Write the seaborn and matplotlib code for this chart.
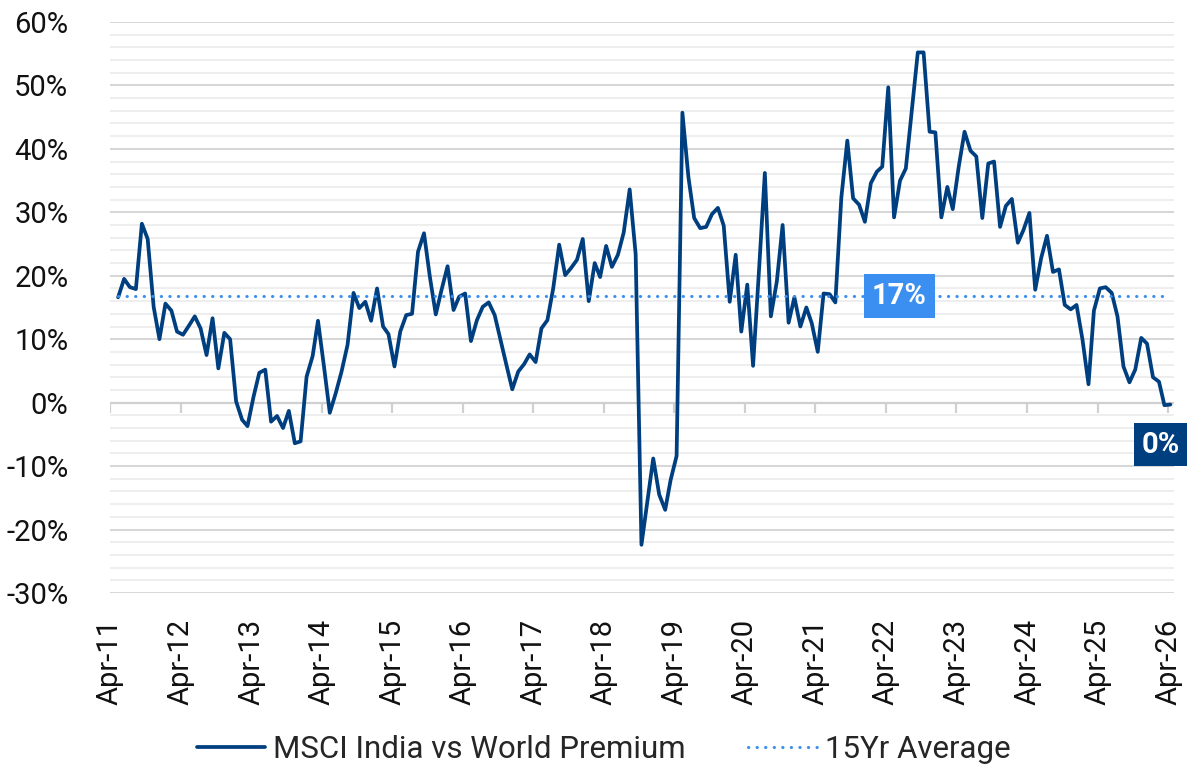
import matplotlib
matplotlib.use("Agg")
import matplotlib.pyplot as plt
import numpy as np
import pandas as pd
import seaborn as sns

# Monthly premium of MSCI India over MSCI World (%), May-11 .. Apr-26
dates = pd.date_range("2011-05-01", periods=180, freq="MS") + pd.Timedelta(days=12)
premium = [
    16.6, 19.5, 18.2, 17.9, 28.2, 25.8, 15.1, 10.0, 15.6, 14.5,
    11.2, 10.7, 12.1, 13.6, 11.7, 7.5, 13.3, 5.4, 11.0, 10.0,
    0.2, -2.7, -3.7, 0.9, 4.7, 5.2, -3.0, -2.1, -4.0, -1.3,
    -6.4, -6.1, 4.1, 7.3, 12.9, 5.7, -1.6, 1.5, 4.9, 9.1,
    17.3, 14.9, 15.9, 12.9, 18.0, 12.0, 10.8, 5.7, 11.2, 13.8,
    14.0, 23.8, 26.7, 19.9, 13.9, 17.8, 21.5, 14.6, 16.7, 17.2,
    9.7, 13.0, 15.1, 15.8, 13.8, 9.9, 5.9, 2.1, 4.9, 6.1,
    7.6, 6.4, 11.7, 13.0, 18.0, 24.9, 20.1, 21.2, 22.5, 25.8,
    16.0, 22.0, 19.8, 24.7, 21.4, 23.3, 26.8, 33.6, 23.4, -22.4,
    -15.5, -8.8, -14.5, -16.9, -12.2, -8.4, 45.7, 35.6, 29.1, 27.5,
    27.7, 29.7, 30.7, 27.9, 15.9, 23.3, 11.2, 18.6, 5.8, 21.0,
    36.2, 13.6, 19.1, 28.0, 12.6, 16.6, 12.0, 15.0, 12.5, 8.0,
    17.2, 17.1, 15.8, 32.3, 41.3, 32.2, 31.2, 28.5, 34.6, 36.4,
    37.2, 49.7, 29.2, 35.0, 36.9, 46.0, 55.2, 55.2, 42.7, 42.6,
    29.2, 34.0, 30.5, 37.2, 42.7, 39.7, 38.8, 29.1, 37.7, 38.0,
    27.7, 31.0, 32.1, 25.2, 27.2, 29.9, 17.8, 22.8, 26.3, 20.6,
    21.0, 15.4, 14.7, 15.4, 9.9, 2.9, 14.5, 18.0, 18.2, 17.3,
    13.6, 5.7, 3.2, 5.2, 10.2, 9.3, 4.0, 3.3, -0.4, -0.3,
]
avg_value = 16.8
avg_label = "17%"
last_label = "0%"
tick_dates = pd.date_range("2011-04-01", "2026-04-01", freq="12MS")
tick_labels = [d.strftime("%b-%y") for d in tick_dates]

df = pd.DataFrame({"date": dates, "premium": premium, "avg": avg_value})

navy = "#003f7f"
light = "#3a8ff0"

sns.set_style("white")
plt.rcParams["font.family"] = ["Roboto", "DejaVu Sans"]

fig = plt.figure(figsize=(11.88, 7.68), dpi=100)
ax = fig.add_axes([0.0926, 0.2279, 0.8955, 0.7435])

sns.lineplot(data=df, x="date", y="premium", ax=ax, color=navy, linewidth=2.7,
             label="MSCI India vs World Premium", legend=False)
sns.lineplot(data=df, x="date", y="avg", ax=ax, color=light, linewidth=2.2,
             linestyle=(0, (0.1, 2.7)), dash_capstyle="round",
             label="15Yr Average", legend=False)

# axes, grid
ax.set_ylim(-30, 60)
ax.set_xlim(pd.Timestamp("2011-04-01"), pd.Timestamp("2026-05-01"))
ax.set_yticks(np.arange(-30, 61, 10))
ax.set_yticks(np.arange(-30, 61, 2), minor=True)
ax.set_yticklabels([f"{v}%" for v in range(-30, 61, 10)])
ax.grid(which="major", axis="y", color="#d6d6d6", linewidth=1.4)
ax.grid(which="minor", axis="y", color="#eeeeee", linewidth=1.4)
ax.set_axisbelow(True)
for s in ax.spines.values():
    s.set_visible(False)

ax.axhline(0, color="#d0d0d0", linewidth=1.6, zorder=1)
ax.vlines(tick_dates, -1.6, 0, color="#d0d0d0", linewidth=1.6, zorder=1)

ax.set_xticks(tick_dates)
ax.set_xticklabels(tick_labels, rotation=90)
ax.tick_params(axis="x", length=0, pad=19, labelsize=21, colors="#111111")
ax.tick_params(axis="y", which="both", length=0, pad=30, labelsize=21, colors="#111111")
ax.set_xlabel("")
ax.set_ylabel("")

# value callouts
ax.text(pd.Timestamp("2022-06-10"), avg_value, avg_label, ha="center", va="center",
        fontsize=21, fontweight="bold", color="white", zorder=5,
        bbox=dict(boxstyle="square,pad=0.28", fc=light, ec="none"))
ax.annotate(last_label, xy=(df["date"].iloc[-1], df["premium"].iloc[-1]),
            xytext=(-10, -40), textcoords="offset pixels", ha="center", va="center",
            fontsize=21, fontweight="bold", color="white", annotation_clip=False,
            bbox=dict(boxstyle="square,pad=0.25", fc=navy, ec="none"), zorder=5)

handles, labels = ax.get_legend_handles_labels()
fig.legend(handles, labels, loc="center", bbox_to_anchor=(0.508, 0.024), ncol=2,
           frameon=False, fontsize=22.5, handlelength=2.2, handletextpad=0.25,
           columnspacing=2.0)

fig.savefig("out.png", dpi=100)
